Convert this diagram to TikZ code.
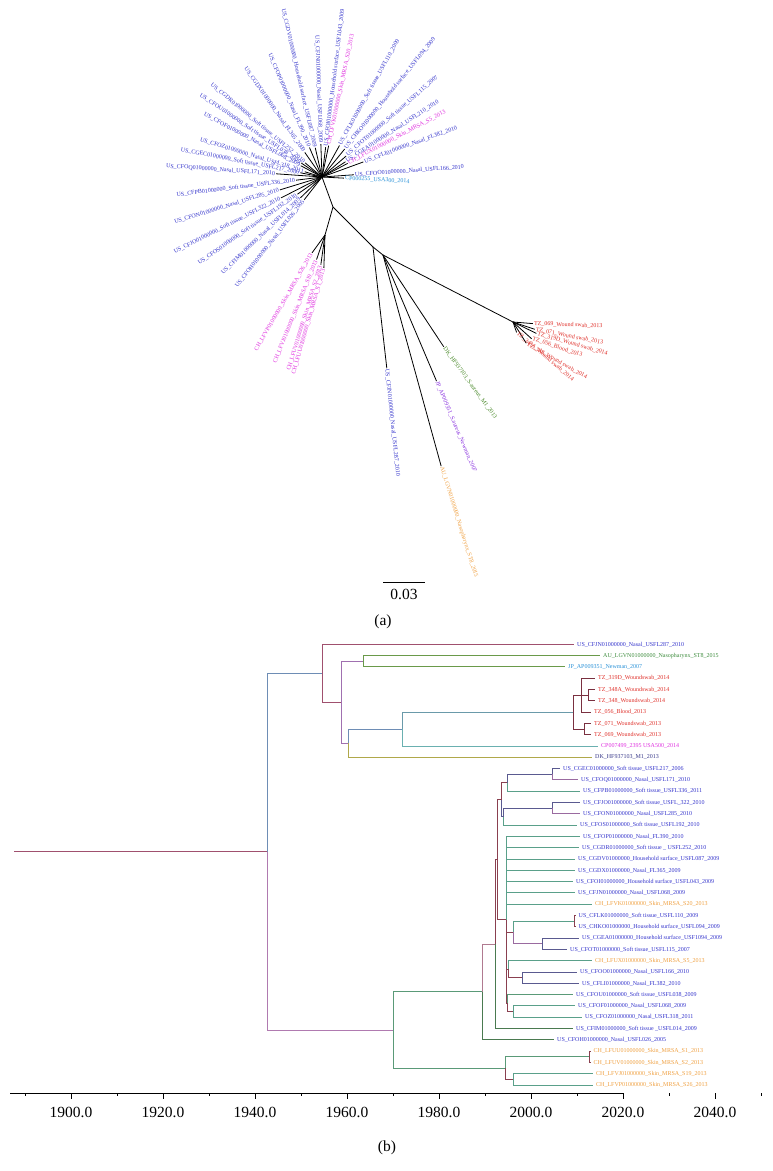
\documentclass[tikz,border=0pt]{standalone}
\usepackage{fontspec}
\setmainfont{Liberation Serif}
\usetikzlibrary{calc}
\definecolor{labUS}{HTML}{3434CC}
\definecolor{labMag}{HTML}{E030E0}
\definecolor{labLB}{HTML}{2A92D8}
\definecolor{labOr}{HTML}{F0A040}
\definecolor{labPu}{HTML}{8A32E0}
\definecolor{labGr}{HTML}{4A8A2A}
\definecolor{labRed}{HTML}{E0302A}
\definecolor{labNavy}{HTML}{3A3A8A}
\definecolor{labAU}{HTML}{3C8C3C}
\definecolor{cRose}{HTML}{A0506E}
\definecolor{cBG}{HTML}{6E8DB5}
\definecolor{cPlum}{HTML}{B07AB0}
\definecolor{cPurp}{HTML}{A070B0}
\definecolor{cGrn}{HTML}{6A9A4A}
\definecolor{cOlive}{HTML}{B0A84A}
\definecolor{cSlate}{HTML}{6A9AAA}
\definecolor{cTeal}{HTML}{6AB0B0}
\definecolor{cWine}{HTML}{7A3040}
\definecolor{cGrnT}{HTML}{5A9A78}
\definecolor{cGrnD}{HTML}{4A7A50}
\definecolor{cTG}{HTML}{5AA08A}
\definecolor{cNavy}{HTML}{5A5A90}
\definecolor{cPlumD}{HTML}{9A6AA0}
\definecolor{cMar}{HTML}{8A4050}
\definecolor{cPink}{HTML}{B07A90}
\tikzset{
  branchA/.style={line width=0.8pt,draw=black},
  leafA/.style={font=\fontsize{6}{6}\selectfont,inner sep=1pt},
  branchB/.style={line width=1pt},
  tipB/.style={anchor=west,font=\fontsize{6}{6}\selectfont,inner sep=0pt,xshift=3pt},
  axisline/.style={line width=0.8pt,draw=black},
  axislbl/.style={font=\fontsize{15.5}{16}\selectfont},
  panellbl/.style={font=\fontsize{15.5}{16}\selectfont},
}
% leaf of the unrooted tree: parent, name, angle, length, label angle, colour, text
\newcommand{\leafA}[7]{%
  \coordinate (#2) at ($(#1)+(#3:#4)$);
  \draw[branchA] (#1) -- (#2);
  \ifdim #5pt>90pt
    \pgfmathsetmacro{\lblrot}{#5-180}%
    \node[leafA,text=#6,anchor=east,rotate=\lblrot] (l#2) at (#2) {\detokenize{#7}};
  \else
    \node[leafA,text=#6,anchor=west,rotate=#5] (l#2) at (#2) {\detokenize{#7}};
  \fi}
% tip of the dated tree: name, x, y, colour, text
\newcommand{\tipB}[5]{%
  \coordinate (#1) at (#2,-#3);
  \node[tipB,text=#4] (l#1) at (#1) {\detokenize{#5}};}

\begin{document}
\begin{tikzpicture}[x=1pt,y=1pt]
\path[fill=white,use as bounding box] (0,0) rectangle (772,-1171);

% (a) unrooted tree
\coordinate (hub) at (322,-177);
\coordinate (n1) at (333,-207);
\coordinate (n2) at (325,-235);
\coordinate (n3) at (373,-247);
\coordinate (n4) at (383,-255);
\coordinate (n5) at (513,-322);
\draw[branchA] (hub) -- (n1);
\draw[branchA] (n1) -- (n2);
\draw[branchA] (n1) -- (n3);
\draw[branchA] (n3) -- (n4);
\draw[branchA] (n4) -- (n5);

\leafA{hub}{cgdv}{103}{30}{103}{labUS}{US_CGDV01000000_Household surface_USFL087_2009}
\leafA{hub}{cfjna}{92}{33}{92}{labUS}{US_CFJN01000000_Nasal_USFL068_2009}
\leafA{hub}{cfop}{113}{32}{113}{labUS}{US_CFOP01000000_Nasal_FL390_2010}
\leafA{hub}{cgdx}{125}{30}{125}{labUS}{US_CGDX01000000_Nasal_FL365_2009}
\leafA{hub}{cgdr}{140}{22}{140}{labUS}{US_CGDR01000000_Soft tissue_USFL252_2010}
\leafA{hub}{cfou}{146}{25}{146}{labUS}{US_CFOU01000000_Soft tissue_USFL038_2009}
\leafA{hub}{cfof}{152}{24}{152}{labUS}{US_CFOF01000000_Nasal_USFL068_2009}
\leafA{hub}{cfoz}{163}{18}{163}{labUS}{US_CFOZ01000000_Nasal_USFL318_2011}
\leafA{hub}{cgec}{169}{22}{169}{labUS}{US_CGEC01000000_Soft tissue_USFL217_2006}
\leafA{hub}{cfoq}{176}{46}{176}{labUS}{US_CFOQ01000000_Nasal_USFL171_2010}
\leafA{hub}{cfpb}{187}{26}{187}{labUS}{US_CFPB01000000_Soft tissue_USFL336_2010}
\leafA{hub}{cfon}{197}{44}{197}{labUS}{US_CFON01000000_Nasal_USFL285_2010}
\leafA{hub}{cfjo}{207}{46}{207}{labUS}{US_CFJO01000000_Soft tissue_USFL322_2010}
\leafA{hub}{cfos}{215}{30}{215}{labUS}{US_CFOS01000000_Soft tissue_USFL192_2010}
\leafA{hub}{cfim}{224}{30}{224}{labUS}{US_CFIM01000000_Nasal_USFL014_2009}
\leafA{hub}{cfoh}{232}{29}{232}{labUS}{US_CFOH01000000_Nasal_USFL026_2005}
\leafA{hub}{cfoi}{83}{30}{83}{labUS}{US_CFOI01000000_Household surface_USFL043_2009}
\leafA{hub}{lfvk}{78}{32}{78}{labMag}{CH_LFVK01000000_Skin_MRSA_S20_2013}
\leafA{hub}{cflk}{61}{36}{61}{labUS}{US_CFLK01000000_Soft tissue_USFL110_2009}
\leafA{hub}{chko}{51}{36}{51}{labUS}{US_CHKO01000000_Household surface_USFL094_2009}
\leafA{hub}{cfot}{41}{32}{41}{labUS}{US_CFOT01000000_Soft tissue_USFL115_2007}
\leafA{hub}{cgea}{33}{28}{33}{labUS}{US_CGEA01000000_Nasal_USFL210_2010}
\leafA{hub}{lfux}{28}{29}{28}{labMag}{CH_LFUX01000000_Skin_MRSA_S5_2013}
\leafA{hub}{cfli}{20}{44}{20}{labUS}{US_CFLI01000000_Nasal_FL382_2010}
\leafA{hub}{cfoo}{4}{32}{4}{labUS}{US_CFOO01000000_Nasal_USFL166_2010}
\leafA{hub}{cp255}{-3}{22}{-3}{labLB}{CP000255_USA300_2014}

\leafA{n2}{lfvp}{234}{22}{240}{labMag}{CH_LFVP01000000_Skin_MRSA_S26_2013}
\leafA{n2}{lfvj}{251}{26}{248}{labMag}{CH_LFVJ01000000_Skin_MRSA_S19_2013}
\leafA{n2}{lfuv}{262}{30}{253}{labMag}{CH_LFUV01000000_Skin_MRSA_S2_2013}
\leafA{n2}{lfuu}{268}{33}{254}{labMag}{CH_LFUU01000000_Skin_MRSA_S1_2013}

\leafA{n3}{cfjnb}{-83.5}{122}{-84}{labUS}{US_CFJN01000000_Nasal_USFL287_2010}
\leafA{n4}{au}{-74.6}{219}{-72.5}{labOr}{AU_LGVN01000000_Nasopharynx_ST8_2015}
\leafA{n4}{jp}{-67}{137}{-67}{labPu}{JP_AP009351_S.aureus_Newman_2007}
\leafA{n4}{dk}{-56.5}{110}{-54}{labGr}{DK_HF937103_S.aureus_M1_2013}

\leafA{n5}{tz069}{-4.6}{20}{-2}{labRed}{TZ_069_Wound swab_2013}
\leafA{n5}{tz071}{-18.6}{23}{-11}{labRed}{TZ_071_Wound swab_2013}
\leafA{n5}{tz319d}{-26}{26}{-16}{labRed}{TZ_319D_Wound swab_2014}
\leafA{n5}{tz056}{-42}{25}{-18}{labRed}{TZ_056_Blood_2013}
\leafA{n5}{tz348}{-58}{25}{-29.5}{labRed}{TZ_348_Wound swab_2014}
\leafA{n5}{tz348a}{-71}{11}{-40}{labRed}{TZ_348A_Wound swab_2014}

\coordinate (sb0) at (383,-582);
\coordinate (sb1) at (425,-582);
\draw[axisline] (sb0) -- (sb1);
\node[panellbl] (sbl) at (404,-594) {0.03};
\node[panellbl] (capa) at (383,-622) {(a)};

% (b) dated tree
\tipB{b1}{574}{644.3}{labUS}{US_CFJN01000000_Nasal_USFL287_2010}
\tipB{b2}{600}{655.6}{labAU}{AU_LGVN01000000_Nasopharynx_ST8_2015}
\tipB{b3}{565}{666.9}{labLB}{JP_AP009351_Newman_2007}
\tipB{b4}{595}{678.2}{labRed}{TZ_319D_Woundswab_2014}
\tipB{b5}{595}{689.5}{labRed}{TZ_348A_Woundswab_2014}
\tipB{b6}{595}{700.8}{labRed}{TZ_348_Woundswab_2014}
\tipB{b7}{591}{712.1}{labRed}{TZ_056_Blood_2013}
\tipB{b8}{591}{723.4}{labRed}{TZ_071_Woundswab_2013}
\tipB{b9}{591}{734.7}{labRed}{TZ_069_Woundswab_2013}
\tipB{b10}{598}{746.0}{labMag}{CP007499_2395 USA500_2014}
\tipB{b11}{592}{757.3}{labNavy}{DK_HF937103_M1_2013}
\tipB{b12}{560}{768.6}{labUS}{US_CGEC01000000_Soft tissue_USFL217_2006}
\tipB{b13}{578}{779.9}{labUS}{US_CFOQ01000000_Nasal_USFL171_2010}
\tipB{b14}{580}{791.2}{labUS}{US_CFPB01000000_Soft tissue_USFL336_2011}
\tipB{b15}{580}{802.5}{labUS}{US_CFJO01000000_Soft tissue_USFL_322_2010}
\tipB{b16}{580}{813.8}{labUS}{US_CFON01000000_Nasal_USFL285_2010}
\tipB{b17}{577}{825.1}{labUS}{US_CFOS01000000_Soft tissue_USFL192_2010}
\tipB{b18}{580}{836.4}{labUS}{US_CFOP01000000_Nasal_FL390_2010}
\tipB{b19}{579}{847.7}{labUS}{US_CGDR01000000_Soft tissue _ USFL252_2010}
\tipB{b20}{575}{859.0}{labUS}{US_CGDV01000000_Household surface_USFL087_2009}
\tipB{b21}{575}{870.3}{labUS}{US_CGDX01000000_Nasal_FL365_2009}
\tipB{b22}{573}{881.6}{labUS}{US_CFOI01000000_Household surface_USFL043_2009}
\tipB{b23}{575}{892.9}{labUS}{US_CFJN01000000_Nasal_USFL068_2009}
\tipB{b24}{592}{904.2}{labOr}{CH_LFVK01000000_Skin_MRSA_S20_2013}
\tipB{b25}{575.5}{915.5}{labUS}{US_CFLK01000000_Soft tissue_USFL110_2009}
\tipB{b26}{575.5}{926.8}{labUS}{US_CHKO01000000_Household surface_USFL094_2009}
\tipB{b27}{579}{938.1}{labUS}{US_CGEA01000000_Household surface_USF1094_2009}
\tipB{b28}{567}{949.4}{labUS}{US_CFOT01000000_Soft tissue_USFL115_2007}
\tipB{b29}{592}{960.7}{labOr}{CH_LFUX01000000_Skin_MRSA_S5_2013}
\tipB{b30}{577}{972.0}{labUS}{US_CFOO01000000_Nasal_USFL166_2010}
\tipB{b31}{579}{983.3}{labUS}{US_CFLI01000000_Nasal_FL382_2010}
\tipB{b32}{573}{994.6}{labUS}{US_CFOU01000000_Soft tissue_USFL038_2009}
\tipB{b33}{575}{1005.9}{labUS}{US_CFOF01000000_Nasal_USFL068_2009}
\tipB{b34}{582}{1017.2}{labUS}{US_CFOZ01000000_Nasal_USFL318_2011}
\tipB{b35}{573}{1028.5}{labUS}{US_CFIM01000000_Soft tissue _USFL014_2009}
\tipB{b36}{554}{1039.8}{labUS}{US_CFOH01000000_Nasal_USFL026_2005}
\tipB{b37}{590.5}{1051.1}{labOr}{CH_LFUU01000000_Skin_MRSA_S1_2013}
\tipB{b38}{590.5}{1062.4}{labOr}{CH_LFUV01000000_Skin_MRSA_S2_2013}
\tipB{b39}{593}{1073.7}{labOr}{CH_LFVJ01000000_Skin_MRSA_S19_2013}
\tipB{b40}{593}{1085.0}{labOr}{CH_LFVP01000000_Skin_MRSA_S26_2013}

\coordinate (stem) at (14,-851.6);
\coordinate (root) at (267,-851.6);
\coordinate (nA) at (322,-673.25);
\coordinate (nB) at (341,-702.2);
\coordinate (nC) at (363,-661.25);
\coordinate (nD) at (348,-743.2);
\coordinate (nE) at (402,-729.05);
\coordinate (nF) at (573,-712.1);
\coordinate (nG) at (581.7,-695.15);
\coordinate (nI) at (588.3,-695.15);
\coordinate (nH) at (584,-729.05);
\coordinate (nL0) at (393,-1030);
\coordinate (nL1) at (482,-991.95);
\coordinate (nL2) at (495.7,-944.1);
\coordinate (nL2b) at (497.5,-859.7);
\coordinate (nL3) at (501,-799.65);
\coordinate (nL4) at (507,-782.7);
\coordinate (nL5) at (552,-774.25);
\coordinate (nL7) at (503.3,-816.6);
\coordinate (nL6) at (552.3,-808.15);
\coordinate (nL8) at (506,-919.75);
\coordinate (nL9) at (513,-932.45);
\coordinate (nK) at (574.3,-921.15);
\coordinate (nL10) at (542,-943.75);
\coordinate (nL12) at (508.3,-969.2);
\coordinate (nL11) at (522,-977.65);
\coordinate (nL13) at (507.7,-1003.1);
\coordinate (nL14) at (513,-1011.55);
\coordinate (nCH) at (505,-1068.05);
\coordinate (nM) at (589,-1056.75);
\coordinate (nN) at (513.3,-1079.35);

\draw[branchB,draw=cRose] (stem) -- (root);
\draw[branchB,draw=cBG] (root) |- (nA);
\draw[branchB,draw=cPlum] (root) |- (nL0);
\draw[branchB,draw=cRose] (nA) |- (b1);
\draw[branchB,draw=cRose] (nA) |- (nB);
\draw[branchB,draw=cPurp] (nB) |- (nC);
\draw[branchB,draw=cPurp] (nB) |- (nD);
\draw[branchB,draw=cGrn] (nC) |- (b2);
\draw[branchB,draw=cGrn] (nC) |- (b3);
\draw[branchB,draw=cBG] (nD) |- (nE);
\draw[branchB,draw=cOlive] (nD) |- (b11);
\draw[branchB,draw=cSlate] (nE) |- (nF);
\draw[branchB,draw=cTeal] (nE) |- (b10);
\foreach \c in {nG,nH} \draw[branchB,draw=cWine] (nF) |- (\c);
\foreach \c in {b4,nI,b7} \draw[branchB,draw=cWine] (nG) |- (\c);
\foreach \c in {b5,b6} \draw[branchB,draw=cWine] (nI) |- (\c);
\foreach \c in {b8,b9} \draw[branchB,draw=cWine] (nH) |- (\c);

\draw[branchB,draw=cGrnT] (nL0) |- (nL1);
\draw[branchB,draw=cGrnT] (nL0) |- (nCH);
\draw[branchB,draw=cPink] (nL1) |- (nL2);
\draw[branchB,draw=cGrnD] (nL1) |- (b36);
\draw[branchB,draw=cMar] (nL2) |- (nL2b);
\draw[branchB,draw=cGrnD] (nL2) |- (b35);
\draw[branchB,draw=cMar] (nL2b) |- (nL3);
\draw[branchB,draw=cMar] (nL2b) |- (nL8);
\draw[branchB,draw=cMar] (nL3) |- (nL4);
\draw[branchB,draw=cNavy] (nL3) |- (nL7);
\draw[branchB,draw=cNavy] (nL4) |- (nL5);
\draw[branchB,draw=cTG] (nL4) |- (b14);
\draw[branchB,draw=cNavy] (nL5) |- (b12);
\draw[branchB,draw=cPlumD] (nL5) |- (b13);
\draw[branchB,draw=cNavy] (nL7) |- (nL6);
\draw[branchB,draw=cTG] (nL7) |- (b17);
\draw[branchB,draw=cNavy] (nL6) |- (b15);
\draw[branchB,draw=cPlumD] (nL6) |- (b16);
\foreach \c in {b18,b19,b20,b21,b22,b23,b24} \draw[branchB,draw=cTG] (nL8) |- (\c);
\foreach \c in {nL9,nL12,nL13} \draw[branchB,draw=cMar] (nL8) |- (\c);
\draw[branchB,draw=cTG] (nL9) |- (nK);
\draw[branchB,draw=cPlumD] (nL9) |- (nL10);
\foreach \c in {b25,b26} \draw[branchB,draw=cMar] (nK) |- (\c);
\foreach \c in {b27,b28} \draw[branchB,draw=cNavy] (nL10) |- (\c);
\draw[branchB,draw=cTG] (nL12) |- (b29);
\draw[branchB,draw=cMar] (nL12) |- (nL11);
\foreach \c in {b30,b31} \draw[branchB,draw=cNavy] (nL11) |- (\c);
\draw[branchB,draw=cGrnT] (nL13) |- (b32);
\draw[branchB,draw=cMar] (nL13) |- (nL14);
\foreach \c in {b33,b34} \draw[branchB,draw=cTG] (nL14) |- (\c);
\draw[branchB,draw=cGrnT] (nCH) |- (nM);
\draw[branchB,draw=cMar] (nCH) |- (nN);
\foreach \c in {b37,b38} \draw[branchB,draw=cMar] (nM) |- (\c);
\foreach \c in {b39,b40} \draw[branchB,draw=cTG] (nN) |- (\c);

% time axis
\coordinate (ax0) at (10,-1093);
\coordinate (ax1) at (623,-1093);
\draw[axisline] (ax0) -- (ax1);
\foreach \yr in {1890,1910,...,2050}
  \draw[axisline] ({71+(\yr-1900)*4.6},-1093) -- ++(0,-3);
\foreach \yr in {1900,1920,...,2040} {
  \draw[axisline] ({71+(\yr-1900)*4.6},-1093) -- ++(0,-6);
  \node[axislbl] (t\yr) at ({71+(\yr-1900)*4.6},-1112) {\yr.0};
}
\node[panellbl] (capb) at (387,-1148) {(b)};

\end{tikzpicture}
\end{document}
